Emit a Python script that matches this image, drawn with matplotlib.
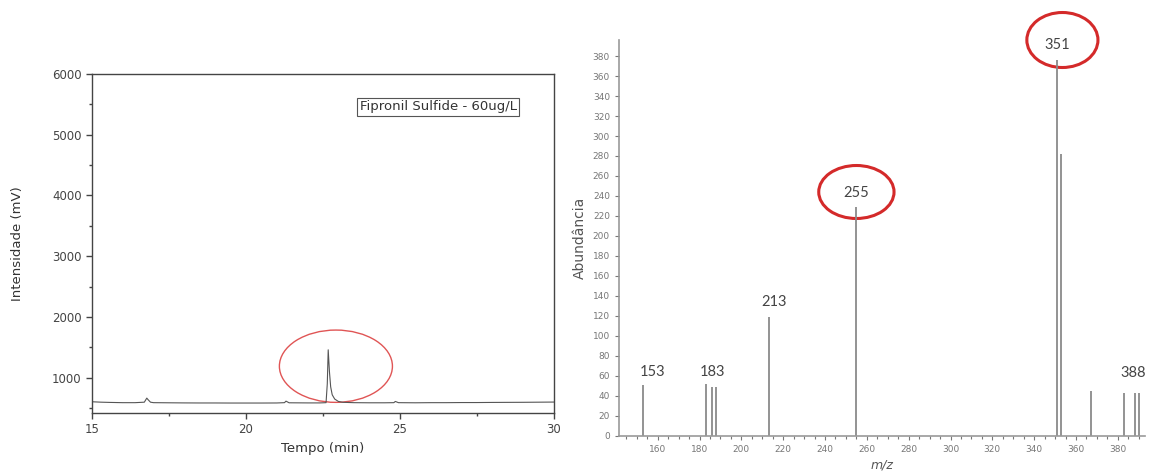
import matplotlib
matplotlib.use('Agg')
import matplotlib.pyplot as plt
from matplotlib.patches import Ellipse
from matplotlib.ticker import MultipleLocator

# chromatogram (left)
tempo = [15.0, 15.3, 15.6, 16.0, 16.4, 16.7, 16.78, 16.82, 16.9, 17.0, 17.5, 18.0, 18.5, 19.0,
         19.5, 20.0, 20.5, 21.0, 21.25, 21.3, 21.4, 22.0, 22.4, 22.6, 22.64, 22.67, 22.71,
         22.75, 22.8, 22.88, 23.0, 23.15, 23.5, 24.0, 24.5, 24.8, 24.85, 24.95, 25.5, 26.0,
         26.5, 27.0, 27.5, 28.0, 28.5, 29.0, 29.5, 30.0]
intensidade = [605, 598, 594, 590, 590, 598, 665, 640, 598, 590, 588, 586, 585, 585,
               584, 584, 584, 585, 590, 615, 588, 586, 586, 590, 900, 1460, 1100,
               850, 720, 650, 610, 596, 590, 588, 588, 590, 610, 590, 588, 590,
               590, 592, 592, 594, 595, 596, 598, 600]

# mass spectrum (right)
mz = [153, 183, 186, 188, 213, 255, 351, 353, 367, 383, 388, 390]
abund = [51, 52, 49, 49, 119, 229, 376, 282, 45, 43, 43, 43]
label_mz = [153, 183, 213, 255, 351, 388]
label_dx = [4.5, 3.0, 2.5, 0.0, 0.0, -0.5]
label_y = [57, 57, 127, 236, 384, 56]

fig = plt.figure(figsize=(11.51, 4.74), dpi=100)

ax1 = fig.add_axes([0.0799, 0.1287, 0.4014, 0.7152])
ax1.plot(tempo, intensidade, color='#555555', lw=0.8)
ax1.set_xlim(15, 30)
ax1.set_ylim(420, 6000)
ax1.xaxis.set_major_locator(MultipleLocator(5))
ax1.xaxis.set_minor_locator(MultipleLocator(2.5))
ax1.yaxis.set_minor_locator(MultipleLocator(500))
ax1.set_yticks([1000, 2000, 3000, 4000, 5000, 6000])
ax1.tick_params(which='both', direction='out', labelsize=8.5, colors='#444444', width=1.0)
ax1.tick_params(which='major', length=4)
ax1.tick_params(which='minor', length=2.5)
for s in ax1.spines.values():
    s.set_color('#444444')
    s.set_linewidth(1.0)
ax1.set_xlabel('Tempo (min)', fontsize=9.5, color='#333333', labelpad=4)
ax1.set_ylabel('Intensidade (mV)', fontsize=9.5, color='#333333', labelpad=20)
ax1.text(0.749, 0.903, 'Fipronil Sulfide - 60ug/L', transform=ax1.transAxes, ha='center', va='center',
         fontsize=9.5, color='#333333',
         bbox=dict(boxstyle='square,pad=0.2', fc='white', ec='#555555', lw=0.8))
ax1.add_patch(Ellipse((22.92, 1190), 3.67, 1190, fill=False, ec='#e05555', lw=1.0))

ax2 = fig.add_axes([0.5378, 0.0802, 0.457, 0.8354])
ax2.vlines(mz, 0, abund, color='#8a8a8a', lw=1.3)
ax2.set_xlim(141.5, 393)
ax2.set_ylim(0, 396)
ax2.xaxis.set_minor_locator(MultipleLocator(5))
ax2.set_xticks(range(160, 381, 20))
ax2.set_yticks(range(0, 381, 20))
ax2.tick_params(which='both', direction='out', labelsize=6.5, colors='#777777', width=0.8)
ax2.tick_params(which='major', length=3)
ax2.tick_params(which='minor', length=2)
ax2.spines['top'].set_visible(False)
ax2.spines['right'].set_visible(False)
for s in ('left', 'bottom'):
    ax2.spines[s].set_color('#999999')
    ax2.spines[s].set_linewidth(1.2)
ax2.set_xlabel('m/z', fontsize=9, style='italic', color='#555555', labelpad=3)
ax2.set_ylabel('Abundância', fontsize=10, color='#555555', labelpad=4)
for m, dx, y in zip(label_mz, label_dx, label_y):
    ax2.text(m + dx, y, str(m), ha='center', va='bottom', fontsize=10.5,
             family=['Lato', 'DejaVu Sans'], color='#444444')
ax2.add_patch(Ellipse((255, 244), 36, 53, fill=False, ec='#d42a2a', lw=2.2, clip_on=False))
ax2.add_patch(Ellipse((353.5, 396), 34, 55, fill=False, ec='#d42a2a', lw=2.2, clip_on=False))

fig.savefig('out.png', dpi=100)
